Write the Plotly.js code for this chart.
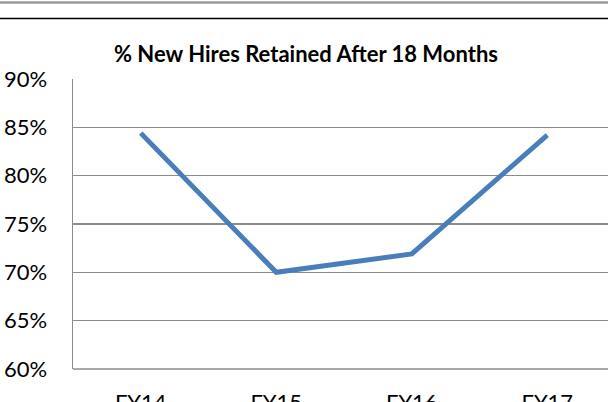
<!DOCTYPE html>
<html>
<head>
<meta charset="utf-8">
<script src="https://cdn.plot.ly/plotly-3.0.1.min.js"></script>
<style>html,body{margin:0;padding:0;background:#fff;overflow:hidden;}#chart{width:608px;height:402px;}</style>
</head>
<body>
<div id="chart"></div>
<script>
var categories = ["FY14", "FY15", "FY16", "FY17"];
var retained = [0.844, 0.700, 0.719, 0.842];
var titleText = "% New Hires Retained After 18 Months";

var font = "Lato, 'Open Sans', sans-serif";
var gray = "#8c8c8c";

var trace = {
  x: categories,
  y: retained,
  type: "scatter",
  mode: "lines",
  line: {color: "#4a7ebb", width: 5},
  hoverinfo: "skip"
};

var layout = {
  width: 608,
  height: 402,
  margin: {l: 73, r: 0, t: 79, b: 33, pad: 0},
  paper_bgcolor: "#fff",
  plot_bgcolor: "#fff",
  showlegend: false,
  title: {
    text: "<b>" + titleText + "</b>",
    font: {family: font, size: 22, color: "#000"},
    x: 306/608, xref: "container", xanchor: "center",
    y: 1 - 54/402, yref: "container", yanchor: "middle"
  },
  xaxis: {
    type: "category",
    range: [-0.5, 3.448],
    showgrid: false,
    zeroline: false,
    showline: false,
    ticks: "outside",
    ticklen: 14,
    tickcolor: "rgba(0,0,0,0)",
    tickfont: {family: font, size: 22, color: "#000"}
  },
  yaxis: {
    range: [0.6, 0.9],
    dtick: 0.05,
    tick0: 0.6,
    tickformat: ".0%",
    showgrid: true,
    gridcolor: gray,
    gridwidth: 1.5,
    zeroline: false,
    showline: true,
    linecolor: gray,
    linewidth: 1.5,
    ticks: "outside",
    ticklen: 20,
    tickcolor: "rgba(0,0,0,0)",
    tickfont: {family: font, size: 22, color: "#000"}
  },
  shapes: [
    {type: "line", xref: "paper", yref: "paper", x0: -0.2, x1: 1.1, y0: (369-2.5)/290, y1: (369-2.5)/290, line: {color: "#9a9a9a", width: 2.5}},
    {type: "line", xref: "paper", yref: "paper", x0: -0.2, x1: 1.1, y0: (369-18.5)/290, y1: (369-18.5)/290, line: {color: "#000", width: 1.5}},
    {type: "line", xref: "paper", yref: "paper", x0: 0, x1: 1.1, y0: 0, y1: 0, line: {color: gray, width: 1.5}}
  ]
};

Plotly.newPlot("chart", [trace], layout, {staticPlot: true, displayModeBar: false});
</script>
</body>
</html>
